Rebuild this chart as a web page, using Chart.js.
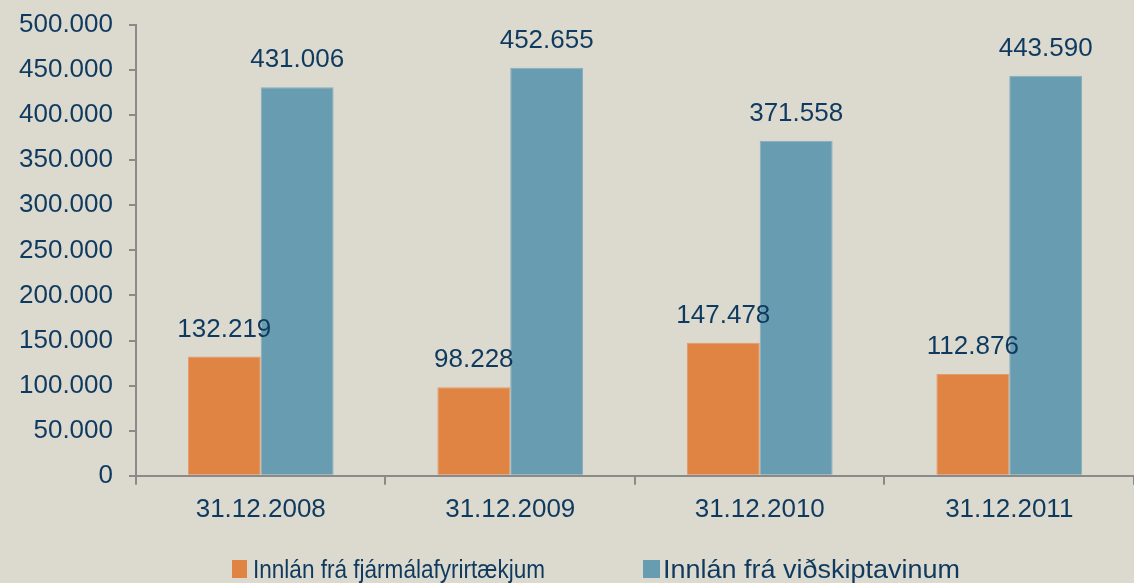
<!DOCTYPE html>
<html>
<head>
<meta charset="utf-8">
<script src="https://cdn.jsdelivr.net/npm/chart.js@4.4.1/dist/chart.umd.min.js"></script>
<style>
  html, body { margin: 0; padding: 0; background: #dcd9cf; }
  #wrap { width: 1134px; height: 583px; position: relative; }
</style>
</head>
<body>
<div id="wrap"><canvas id="c"></canvas></div>
<script>
const categories = ['31.12.2008', '31.12.2009', '31.12.2010', '31.12.2011'];
const seriesNames = ['Innlán frá fjármálafyrirtækjum', 'Innlán frá viðskiptavinum'];
const financialInstitutions = [132219, 98228, 147478, 112876];
const customers = [431006, 452655, 371558, 443590];
const yTicks = [0, 50000, 100000, 150000, 200000, 250000, 300000, 350000, 400000, 450000, 500000];

const TEXT = '#0f3a5f';
const AXIS = '#8a8a8a';
const FONT = "'Liberation Sans', Arial, sans-serif";

function fmt(v) {
  return String(v).replace(/\B(?=(\d{3})+(?!\d))/g, '.');
}

const bgPlugin = {
  id: 'bg',
  beforeDraw(chart) {
    const ctx = chart.ctx;
    ctx.save();
    ctx.fillStyle = '#dcd9cf';
    ctx.fillRect(0, 0, chart.width, chart.height);
    ctx.restore();
  }
};

const valueLabels = {
  id: 'valueLabels',
  afterDatasetsDraw(chart) {
    const ctx = chart.ctx;
    ctx.save();
    ctx.font = '26px ' + FONT;
    ctx.fillStyle = TEXT;
    ctx.textAlign = 'center';
    ctx.textBaseline = 'alphabetic';
    chart.data.datasets.forEach((ds, i) => {
      const meta = chart.getDatasetMeta(i);
      meta.data.forEach((bar, j) => {
        ctx.fillText(fmt(ds.data[j]), bar.x, bar.y - 20);
      });
    });
    ctx.restore();
  }
};

const customLegend = {
  id: 'customLegend',
  afterDraw(chart, args, opts) {
    const ctx = chart.ctx;
    ctx.save();
    ctx.font = '25px ' + FONT;
    ctx.textBaseline = 'alphabetic';
    ctx.textAlign = 'left';
    chart.data.datasets.forEach((ds, i) => {
      const it = opts.items[i];
      ctx.fillStyle = ds.backgroundColor;
      ctx.fillRect(it.box, 560, it.boxW, 18);
      const w = ctx.measureText(ds.label).width;
      ctx.save();
      ctx.translate(it.text, 578);
      ctx.scale(it.width / w, 1);
      ctx.fillStyle = TEXT;
      ctx.fillText(ds.label, 0, 0);
      ctx.restore();
    });
    ctx.restore();
  }
};

new Chart(document.getElementById('c'), {
  type: 'bar',
  data: {
    labels: categories,
    datasets: [
      {
        label: seriesNames[0],
        data: financialInstitutions,
        backgroundColor: '#e08444',
        borderColor: '#e59a68',
        borderWidth: 1,
        borderSkipped: 'bottom'
      },
      {
        label: seriesNames[1],
        data: customers,
        backgroundColor: '#689cb0',
        borderColor: '#84aebe',
        borderWidth: 1,
        borderSkipped: 'bottom'
      }
    ]
  },
  options: {
    responsive: true,
    maintainAspectRatio: false,
    animation: false,
    layout: { padding: { left: 3, right: -2, top: 25, bottom: 49 } },
    datasets: {
      bar: { categoryPercentage: 0.584, barPercentage: 1.0 }
    },
    plugins: {
      legend: { display: false },
      tooltip: { enabled: false },
      customLegend: {
        items: [
          { box: 232, boxW: 15, text: 253, width: 292 },
          { box: 643, boxW: 17, text: 663, width: 297 }
        ]
      }
    },
    scales: {
      x: {
        grid: {
          offset: true,
          drawOnChartArea: false,
          drawTicks: true,
          tickLength: 9,
          color: AXIS,
          lineWidth: 2
        },
        border: { display: true, color: AXIS, width: 2 },
        ticks: {
          color: TEXT,
          font: { family: FONT, size: 26 },
          padding: 9,
          maxRotation: 0
        }
      },
      y: {
        min: 0,
        max: 500000,
        afterBuildTicks(axis) {
          axis.ticks = yTicks.map(v => ({ value: v }));
        },
        afterFit(axis) {
          axis.paddingTop = 0;
          axis.paddingBottom = 0;
        },
        grid: {
          drawOnChartArea: false,
          drawTicks: true,
          tickLength: 7,
          color: AXIS,
          lineWidth: 2
        },
        border: { display: true, color: AXIS, width: 2 },
        ticks: {
          color: TEXT,
          font: { family: FONT, size: 26 },
          padding: 16,
          callback: (v) => fmt(v)
        }
      }
    }
  },
  plugins: [bgPlugin, valueLabels, customLegend]
});
</script>
</body>
</html>
